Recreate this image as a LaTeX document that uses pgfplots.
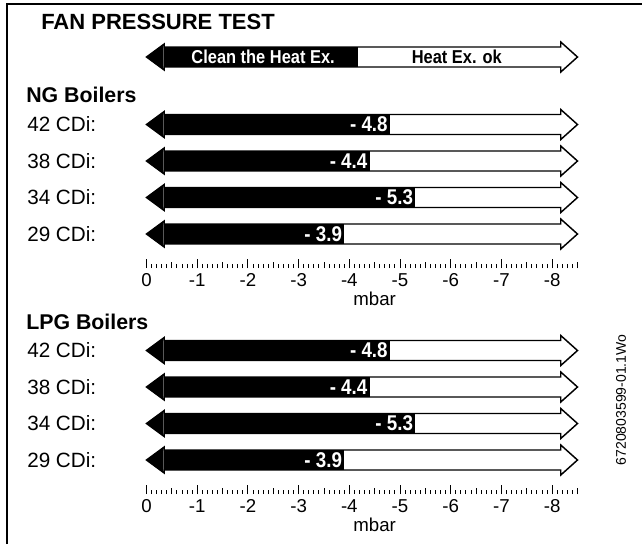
\documentclass[border=0pt]{standalone}
\usepackage{fontspec}
\setmainfont{Liberation Sans}
\newfontfamily\condfont{Liberation Sans}[FakeStretch=0.88]
\usepackage{pgfplots}
\pgfplotsset{compat=1.18}
\usepackage{pgfplotstable}
\usetikzlibrary{arrows.meta}

% header threshold arrow
\pgfplotstableread[col sep=comma]{
y,val
57,-4.17
}\hdrdata
% NG boilers
\pgfplotstableread[col sep=comma]{
y,val,lab
124.5,-4.8,- 4.8
161,-4.4,- 4.4
197.5,-5.3,- 5.3
234,-3.9,- 3.9
}\ngdata
% LPG boilers
\pgfplotstableread[col sep=comma]{
y,val,lab
350.5,-4.8,- 4.8
387,-4.4,- 4.4
423.5,-5.3,- 5.3
460,-3.9,- 3.9
}\lpgdata

\newcommand\outlinearrow[1]{%
 \draw[fill=white, line width=1.1pt, line join=miter]
 (axis cs:0,#1) -- (axis cs:-0.35,{#1-13}) -- (axis cs:-0.35,{#1-10})
 -- (axis cs:-8.17,{#1-10}) -- (axis cs:-8.17,{#1-15}) -- (axis cs:-8.5,#1)
 -- (axis cs:-8.17,{#1+15}) -- (axis cs:-8.17,{#1+10}) -- (axis cs:-0.35,{#1+10})
 -- (axis cs:-0.35,{#1+13}) -- cycle;}

\pgfplotsset{
 fanaxis/.style={
  scale only axis, width=323.25pt,
  x dir=reverse, y dir=reverse, xmin=-8.5, xmax=0,
  axis x line*=bottom, axis y line=none,
  x axis line style={draw=none},
  tick align=inside,
  xtick={0,-1,...,-8},
  xticklabels={0,-1,-2,-3,-4,-5,-6,-7,-8},
  minor xtick={-0.1,-0.2,...,-8.45},
  extra x ticks={-0.5,-1.5,-2.5,-3.5,-4.5,-5.5,-6.5,-7.5,-8.5},
  extra x tick labels={},
  extra x tick style={major tick length=4.2pt},
  major tick length=6.6pt,
  minor tick length=2.8pt,
  every tick/.style={black, line width=0.7pt},
  xticklabel style={font=\fontsize{14}{16}\selectfont, inner sep=1pt, yshift=-3pt},
  xlabel={mbar},
  xlabel style={at={(ticklabel cs:0.5294)}, anchor=north, font=\fontsize{14}{16}\selectfont, inner sep=0pt, yshift=-3pt},
  clip=false,
 },
 blackarrow/.style={black, line width=15pt, mark=none,
  quiver={u={abs(\thisrow{val})}, v=0},
  -{Triangle[length=12.75pt, width=19.5pt, line width=0pt]}},
 vallabel/.style={draw=none, mark=none, nodes near coords, point meta=explicit symbolic,
  every node near coord/.append style={anchor=east, text=white, inner sep=1.5pt,
  font=\condfont\bfseries\fontsize{16}{18}\selectfont}},
}

\begin{document}
\begin{tikzpicture}[x=0.75pt,y=-0.75pt]
\useasboundingbox (0,0) rectangle (642,544);
\draw[line width=1.1pt] (7,544) -- (7,4) -- (642,4);

\node[anchor=west, font=\bfseries\fontsize{16.5}{19}\selectfont, inner sep=0pt] at (41,22) {FAN PRESSURE TEST};
\node[anchor=west, font=\bfseries\fontsize{16}{19}\selectfont, inner sep=0pt] at (26,95) {NG Boilers};
\node[anchor=west, font=\bfseries\fontsize{16}{19}\selectfont, inner sep=0pt] at (26,322) {LPG Boilers};

\begin{axis}[fanaxis, at={(271.5pt,-115.5pt)}, anchor=center, ymin=40, ymax=268, height=171pt]
 \outlinearrow{57}
 \addplot[blackarrow] table[x=val, y=y] {\hdrdata};
 \node[text=white, font=\condfont\bfseries\fontsize{14}{16}\selectfont] at (axis cs:-2.3,57) {Clean the Heat Ex.};
 \node[font=\condfont\bfseries\fontsize{14}{16}\selectfont] at (axis cs:-6.12,57) {Heat Ex. ok};
 \outlinearrow{124.5}
 \outlinearrow{161}
 \outlinearrow{197.5}
 \outlinearrow{234}
 \addplot[blackarrow] table[x=val, y=y] {\ngdata};
 \addplot[vallabel] table[x=val, y=y, meta=lab] {\ngdata};
\end{axis}

\begin{axis}[fanaxis, at={(271.5pt,-301.5pt)}, anchor=center, ymin=310, ymax=494, height=138pt]
 \outlinearrow{350.5}
 \outlinearrow{387}
 \outlinearrow{423.5}
 \outlinearrow{460}
 \addplot[blackarrow] table[x=val, y=y] {\lpgdata};
 \addplot[vallabel] table[x=val, y=y, meta=lab] {\lpgdata};
\end{axis}

\foreach \yy/\nm in {124.5/42, 161/38, 197.5/34, 234/29, 350.5/42, 387/38, 423.5/34, 460/29}
 \node[anchor=west, font=\fontsize{15.5}{18}\selectfont, inner sep=0pt] at (27,\yy) {\nm\ CDi:};

\node[rotate=90, font=\fontsize{10.5}{12}\selectfont] at (621,400) {6720803599-01.1Wo};
\end{tikzpicture}
\end{document}
